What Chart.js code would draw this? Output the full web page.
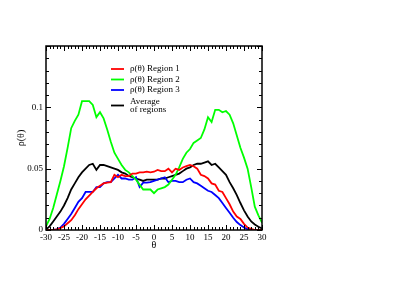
<!DOCTYPE html>
<html>
<head>
<meta charset="utf-8">
<script src="https://cdn.jsdelivr.net/npm/chart.js@4/dist/chart.umd.min.js"></script>
<style>
  html, body { margin: 0; padding: 0; background: #fff; }
  #wrap { width: 399px; height: 308px; }
</style>
</head>
<body>
<div id="wrap"><canvas id="chart"></canvas></div>
<script>
// 角度 (度)
const theta = [
  -30, -29, -28, -27, -26, -25, -24, -23, -22, -21,
  -20, -19, -18, -17, -16, -15, -14, -13, -12, -11,
  -10, -9, -8, -7, -6, -5, -4, -3, -2, -1,
  0, 1, 2, 3, 4, 5, 6, 7, 8, 9,
  10, 11, 12, 13, 14, 15, 16, 17, 18, 19,
  20, 21, 22, 23, 24, 25, 26, 27, 28, 29, 30
];

// Region 1 (红)
const region1 = [
  0, 0, 0, 0.0005, 0.0015, 0.003, 0.0055, 0.008, 0.012, 0.017,
  0.021, 0.025, 0.028, 0.031, 0.034, 0.036, 0.038, 0.0386, 0.039, 0.045,
  0.043, 0.045, 0.044, 0.044, 0.046, 0.046, 0.047, 0.047, 0.0475, 0.047,
  0.0475, 0.049, 0.048, 0.048, 0.050, 0.047, 0.050, 0.049, 0.051, 0.052,
  0.053, 0.052, 0.050, 0.045, 0.044, 0.042, 0.038, 0.037, 0.032, 0.031,
  0.026, 0.021, 0.015, 0.011, 0.009, 0.005, 0.002, 0.001, 0, 0, 0
];

// Region 2 (绿)
const region2 = [
  0.003, 0.009, 0.018, 0.029, 0.040, 0.052, 0.067, 0.083, 0.089, 0.094,
  0.105, 0.105, 0.105, 0.102, 0.092, 0.096, 0.091, 0.082, 0.072, 0.063,
  0.058, 0.053, 0.049, 0.047, 0.044, 0.041, 0.037, 0.033, 0.033, 0.033,
  0.030, 0.033, 0.034, 0.035, 0.037, 0.041, 0.045, 0.051, 0.058, 0.063,
  0.066, 0.071, 0.073, 0.075, 0.082, 0.092, 0.088, 0.098, 0.098, 0.096,
  0.097, 0.094, 0.087, 0.077, 0.067, 0.059, 0.050, 0.035, 0.019, 0.012, 0.006
];

// Region 3 (蓝)
const region3 = [
  0, 0, 0, 0.0005, 0.002, 0.005, 0.009, 0.013, 0.018, 0.023,
  0.026, 0.031, 0.031, 0.031, 0.035, 0.035, 0.038, 0.039, 0.039, 0.042,
  0.045, 0.042, 0.042, 0.041, 0.041, 0.043, 0.035, 0.0386, 0.0386, 0.039,
  0.040, 0.041, 0.042, 0.043, 0.039, 0.040, 0.040, 0.039, 0.039, 0.041,
  0.042, 0.039, 0.038, 0.036, 0.034, 0.032, 0.031, 0.0285, 0.026, 0.022,
  0.018, 0.014, 0.010, 0.0065, 0.004, 0.002, 0.0007, 0, 0, 0, 0
];

// 平均 (黑)
const average = [
  0.0005, 0.003, 0.007, 0.011, 0.015, 0.020, 0.026, 0.033, 0.038, 0.043,
  0.047, 0.050, 0.053, 0.054, 0.049, 0.053, 0.053, 0.052, 0.051, 0.050,
  0.049, 0.047, 0.046, 0.044, 0.043, 0.042, 0.041, 0.040, 0.041, 0.041,
  0.041, 0.041, 0.042, 0.042, 0.043, 0.044, 0.045, 0.046, 0.048, 0.050,
  0.051, 0.053, 0.054, 0.054, 0.055, 0.056, 0.053, 0.054, 0.051, 0.048,
  0.045, 0.039, 0.034, 0.0285, 0.022, 0.016, 0.011, 0.007, 0.0045, 0.0027, 0.0012
];

const seriesLabels = ['ρ(θ) Region 1', 'ρ(θ) Region 2', 'ρ(θ) Region 3', ['Average', 'of regions']];
const seriesColors = ['#ff0000', '#00ff00', '#0000ff', '#000000'];
const seriesData = [region1, region2, region3, average];

// 刻度
const xMajorStep = 5, xMinorStep = 1;
const yMajorStep = 0.05, yMinorStep = 0.01;

const serif = "'Liberation Serif', 'DejaVu Serif', serif";

// 内向刻度和边框
const framePlugin = {
  id: 'frame',
  afterDraw(chart) {
    const { ctx, chartArea: a, scales: { x, y } } = chart;
    ctx.save();
    ctx.strokeStyle = '#000';
    ctx.lineWidth = 1;
    ctx.beginPath();
    for (let v = x.min; v <= x.max + 1e-9; v += xMinorStep) {
      const px = Math.round(x.getPixelForValue(v)) + 0.5;
      const len = Math.abs(v % xMajorStep) < 1e-9 ? 5 : 3;
      ctx.moveTo(px, a.bottom); ctx.lineTo(px, a.bottom - len);
      ctx.moveTo(px, a.top); ctx.lineTo(px, a.top + len);
    }
    for (let i = 0; y.min + i * yMinorStep <= y.max + 1e-9; i++) {
      const v = y.min + i * yMinorStep;
      const py = Math.round(y.getPixelForValue(v)) + 0.5;
      const len = i % 5 === 0 ? 5 : 3;
      ctx.moveTo(a.left, py); ctx.lineTo(a.left + len, py);
      ctx.moveTo(a.right, py); ctx.lineTo(a.right - len, py);
    }
    ctx.stroke();
    ctx.lineWidth = 1.5;
    ctx.strokeRect(a.left, a.top, a.right - a.left, a.bottom - a.top);
    ctx.restore();
  }
};

// 图例 (图内)
const legendPlugin = {
  id: 'innerLegend',
  afterDraw(chart) {
    const { ctx } = chart;
    const rows = [69, 79.5, 90, 105.5];
    ctx.save();
    ctx.font = '9px ' + serif;
    ctx.fillStyle = '#000';
    ctx.textBaseline = 'middle';
    chart.data.datasets.forEach((ds, i) => {
      const yy = rows[i];
      ctx.strokeStyle = ds.borderColor;
      ctx.lineWidth = 1.8;
      ctx.beginPath();
      ctx.moveTo(111, yy); ctx.lineTo(124, yy);
      ctx.stroke();
      const lines = Array.isArray(ds.label) ? ds.label : [ds.label];
      lines.forEach((t, j) => {
        ctx.fillText(t, 130, yy - (lines.length - 1) * 4 + j * 8);
      });
    });
    ctx.restore();
  }
};

new Chart(document.getElementById('chart'), {
  type: 'line',
  data: {
    datasets: seriesData.map((arr, i) => ({
      label: seriesLabels[i],
      data: arr.map((v, k) => ({ x: theta[k], y: v })),
      borderColor: seriesColors[i],
      backgroundColor: seriesColors[i],
      borderWidth: 1.8,
      pointRadius: 0,
      tension: 0,
      fill: false
    }))
  },
  options: {
    responsive: true,
    maintainAspectRatio: false,
    animation: false,
    layout: { padding: { left: 0, top: 46, right: 137, bottom: 57 } },
    plugins: {
      legend: { display: false },
      tooltip: { enabled: false }
    },
    scales: {
      x: {
        type: 'linear',
        min: -30,
        max: 30,
        grid: { display: false, drawTicks: false },
        border: { display: false },
        ticks: {
          stepSize: xMajorStep,
          padding: 2,
          color: '#000',
          maxRotation: 0,
          font: { family: serif, size: 9 }
        },
        title: {
          display: true,
          text: 'θ',
          color: '#000',
          padding: 0,
          font: { family: serif, size: 10 }
        },
        afterFit(scale) { scale.height = 21; }
      },
      y: {
        min: 0,
        max: 0.15,
        grid: { display: false, drawTicks: false },
        border: { display: false },
        ticks: {
          stepSize: yMajorStep,
          padding: 3,
          color: '#000',
          font: { family: serif, size: 9 },
          callback: v => (Math.abs(v - 0.15) < 1e-9 ? '' : +v.toFixed(2))
        },
        title: {
          display: true,
          text: 'ρ(θ)',
          color: '#000',
          padding: { top: 15, bottom: 0 },
          font: { family: serif, size: 10 }
        },
        afterFit(scale) { scale.width = 46; }
      }
    }
  },
  plugins: [framePlugin, legendPlugin]
});
</script>
</body>
</html>
